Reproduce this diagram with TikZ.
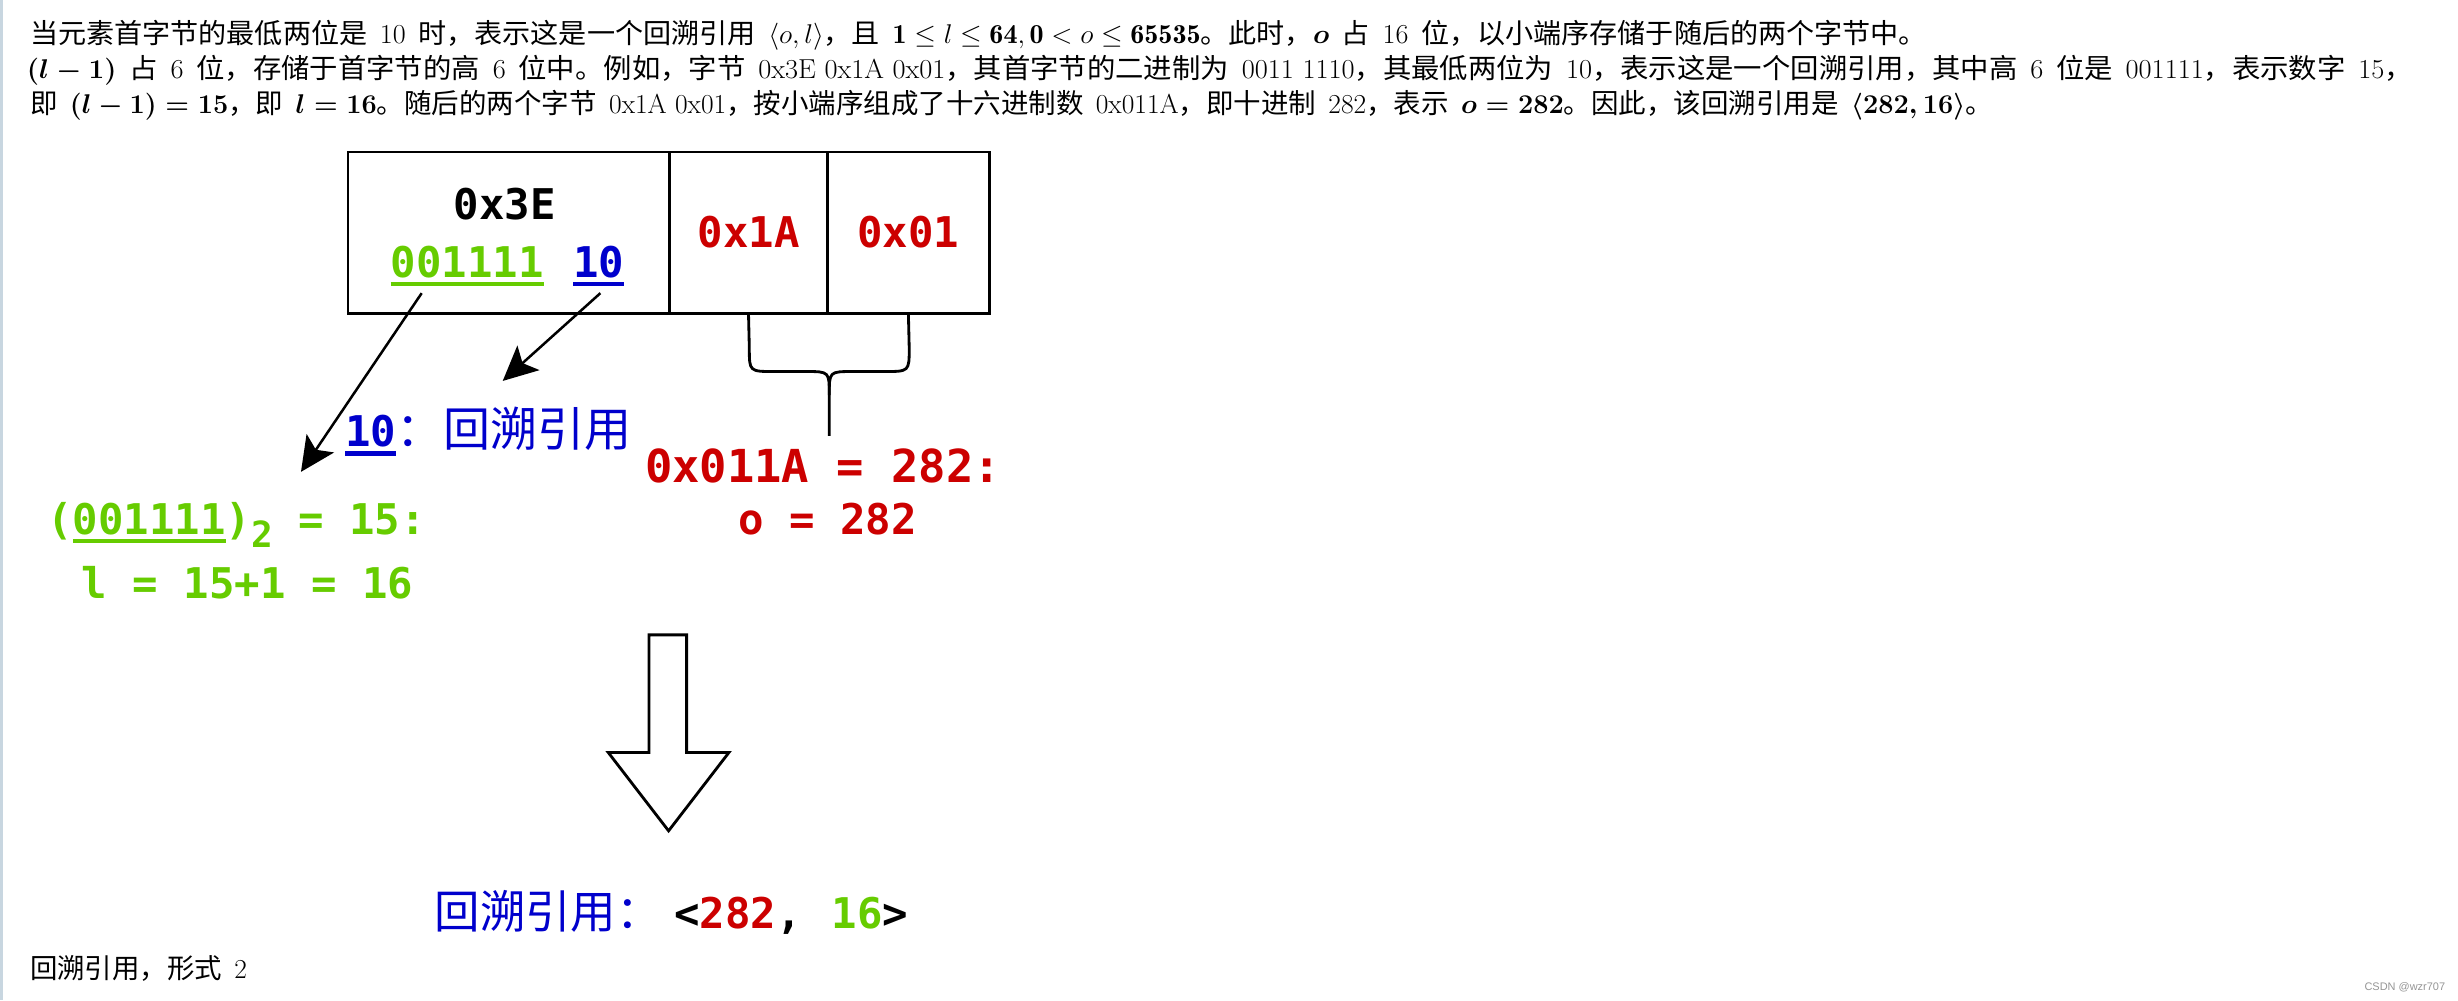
\documentclass[tikz,border=0pt]{standalone}
\usepackage{fontspec}
\usepackage{amsmath}
\usepackage{graphicx}
\newfontfamily\cjk{Noto Sans CJK SC}
\newfontfamily\mono{DejaVu Sans Mono}
\newfontfamily\wm{Liberation Sans}
\usetikzlibrary{arrows.meta}
\definecolor{cg}{RGB}{102,204,0}
\definecolor{cb}{RGB}{0,0,204}
\definecolor{cr}{RGB}{204,0,0}
\definecolor{edgec}{RGB}{200,214,224}
\definecolor{wmgray}{RGB}{150,150,150}
\newcommand\thickul[1]{\setbox0=\hbox{#1}\leavevmode\rlap{\raisebox{-5.6pt}{\rule{\wd0}{2.7pt}}}\box0}
\newcommand\bmm[1]{\mbox{\boldmath$#1$}}
\newcommand\gapsp{\hspace{0.45em}}
\tikzset{
  toptxt/.style={anchor=base west, inner sep=0pt, font=\fontsize{17.5}{20}\selectfont},
  cell/.style={draw, line width=1.8pt, minimum height=103pt, inner sep=0pt},
  monob/.style={inner sep=0pt, anchor=base, font=\mono\bfseries\fontsize{27}{30}\selectfont},
  arr/.style={line width=1.6pt, -{Stealth[length=22pt,width=21pt,inset=5pt]}},
  bracestyle/.style={line width=1.8pt, line join=round},
  hollow/.style={draw, line width=1.8pt, fill=white, line join=miter},
}
\begin{document}
\begin{tikzpicture}[x=1pt,y=-1pt]
\useasboundingbox (0,0) rectangle (1568,638);
\fill[white] (0,0) rectangle (1568,638);
\draw[edgec, line width=1.5pt] (1,0) -- (1,638);
% top text
\node[toptxt] (l1) at (19,27.6) {\resizebox{1210pt}{\height}{{\cjk 当元素首字节的最低两位是}\gapsp 10\gapsp{\cjk 时，表示这是一个回溯引用}\gapsp$\langle o,l\rangle${\cjk ，且}\gapsp$\mathbf{1}\le l\le \mathbf{64},\mathbf{0}<o\le\mathbf{65535}${\cjk 。此时，}\bmm{o}\gapsp{\cjk 占}\gapsp 16\gapsp{\cjk 位，以小端序存储于随后的两个字节中。}}};
\node[toptxt] (l2) at (17,50) {\resizebox{1522pt}{\height}{\bmm{(l-1)}\gapsp{\cjk 占}\gapsp 6\gapsp{\cjk 位，存储于首字节的高}\gapsp 6\gapsp{\cjk 位中。例如，字节}\gapsp 0x3E 0x1A 0x01{\cjk ，其首字节的二进制为}\gapsp 0011 1110{\cjk ，其最低两位为}\gapsp 10{\cjk ，表示这是一个回溯引用，其中高}\gapsp 6\gapsp{\cjk 位是}\gapsp 001111{\cjk ，表示数字}\gapsp 15{\cjk ，}}};
\node[toptxt] (l3) at (19,72.3) {\resizebox{1252pt}{\height}{{\cjk 即}\gapsp\bmm{(l-1)=15}{\cjk ，即}\gapsp\bmm{l=16}{\cjk 。随后的两个字节}\gapsp 0x1A 0x01{\cjk ，按小端序组成了十六进制数}\gapsp 0x011A{\cjk ，即十进制}\gapsp 282{\cjk ，表示}\gapsp\bmm{o=282}{\cjk 。因此，该回溯引用是}\gapsp\bmm{\langle 282,16\rangle}{\cjk 。}}};
% byte cells
\node[cell, minimum width=205pt] (c1) at (324.5,148.5) {};
\node[cell, minimum width=101pt] (c2) at (477.5,148.5) {};
\node[cell, minimum width=103pt] (c3) at (579.5,148.5) {};
\node[monob] (t3e) at (322,140) {0x3E};
\node[monob, text=cg] (g6) at (298,177) {\thickul{001111}};
\node[monob, text=cb] (b10) at (382,177) {\thickul{10}};
\node[monob, text=cr] (t1a) at (477.5,158) {0x1A};
\node[monob, text=cr] (t01) at (579.5,158) {0x01};
% arrows from the first byte
\coordinate (a1s) at (269,187);
\coordinate (a1e) at (192,301);
\coordinate (a2s) at (383,187);
\coordinate (a2e) at (320.7,243);
\draw[arr] (a1s) -- (a1e);
\draw[arr] (a2s) -- (a2e);
% brace
\coordinate (bl) at (c2.south);
\coordinate (br) at (c3.south);
\coordinate (bm) at (529,278);
\draw[bracestyle] (bl) -- (478,222) .. controls (478,237) .. (494,237) -- (514,237) .. controls (529,237) .. (529,252) -- (bm);
\draw[bracestyle] (br) -- (580,222) .. controls (580,237) .. (564,237) -- (544,237) .. controls (529,237) .. (529,252);
% labels
\node[anchor=base west, inner sep=0pt, text=cb] (lab10) at (220,285) {{\mono\bfseries\fontsize{27}{30}\selectfont\thickul{10}}{\cjk\fontsize{30}{32}\selectfont ：回溯引用}};
\node[monob, text=cr, font=\mono\bfseries\fontsize{29}{30}\selectfont] (hex) at (525,308) {0x011A = 282:};
\node[monob, text=cr] (oval) at (528,341) {o = 282};
\node[monob, anchor=base west, text=cg] (bin) at (30,341) {(\thickul{001111})\raisebox{-8pt}{\fontsize{23}{23}\selectfont 2} = 15:};
\node[monob, anchor=base west, text=cg] (lval) at (52,382) {l = 15+1 = 16};
% hollow arrow
\draw[hollow] (414,405) -- (438,405) -- (438,480) -- (465,480) -- (426.5,530) -- (388,480) -- (414,480) -- cycle;
% result
\node[anchor=base west, inner sep=0pt] (res) at (277,592) {{\cjk\fontsize{29}{32}\selectfont\color{cb}回溯引用：}\hspace{8pt}{\mono\bfseries\fontsize{27}{30}\selectfont <{\color{cr}282},\hspace{19pt}{\color{cg}16}>}};
% caption and watermark
\node[toptxt] (cap) at (19,624) {{\cjk 回溯引用，形式}\gapsp 2};
\node[anchor=base east, inner sep=0pt, text=wmgray, font=\wm\fontsize{7}{8}\selectfont] (wmk) at (1560,632) {CSDN @wzr707};
\end{tikzpicture}
\end{document}
